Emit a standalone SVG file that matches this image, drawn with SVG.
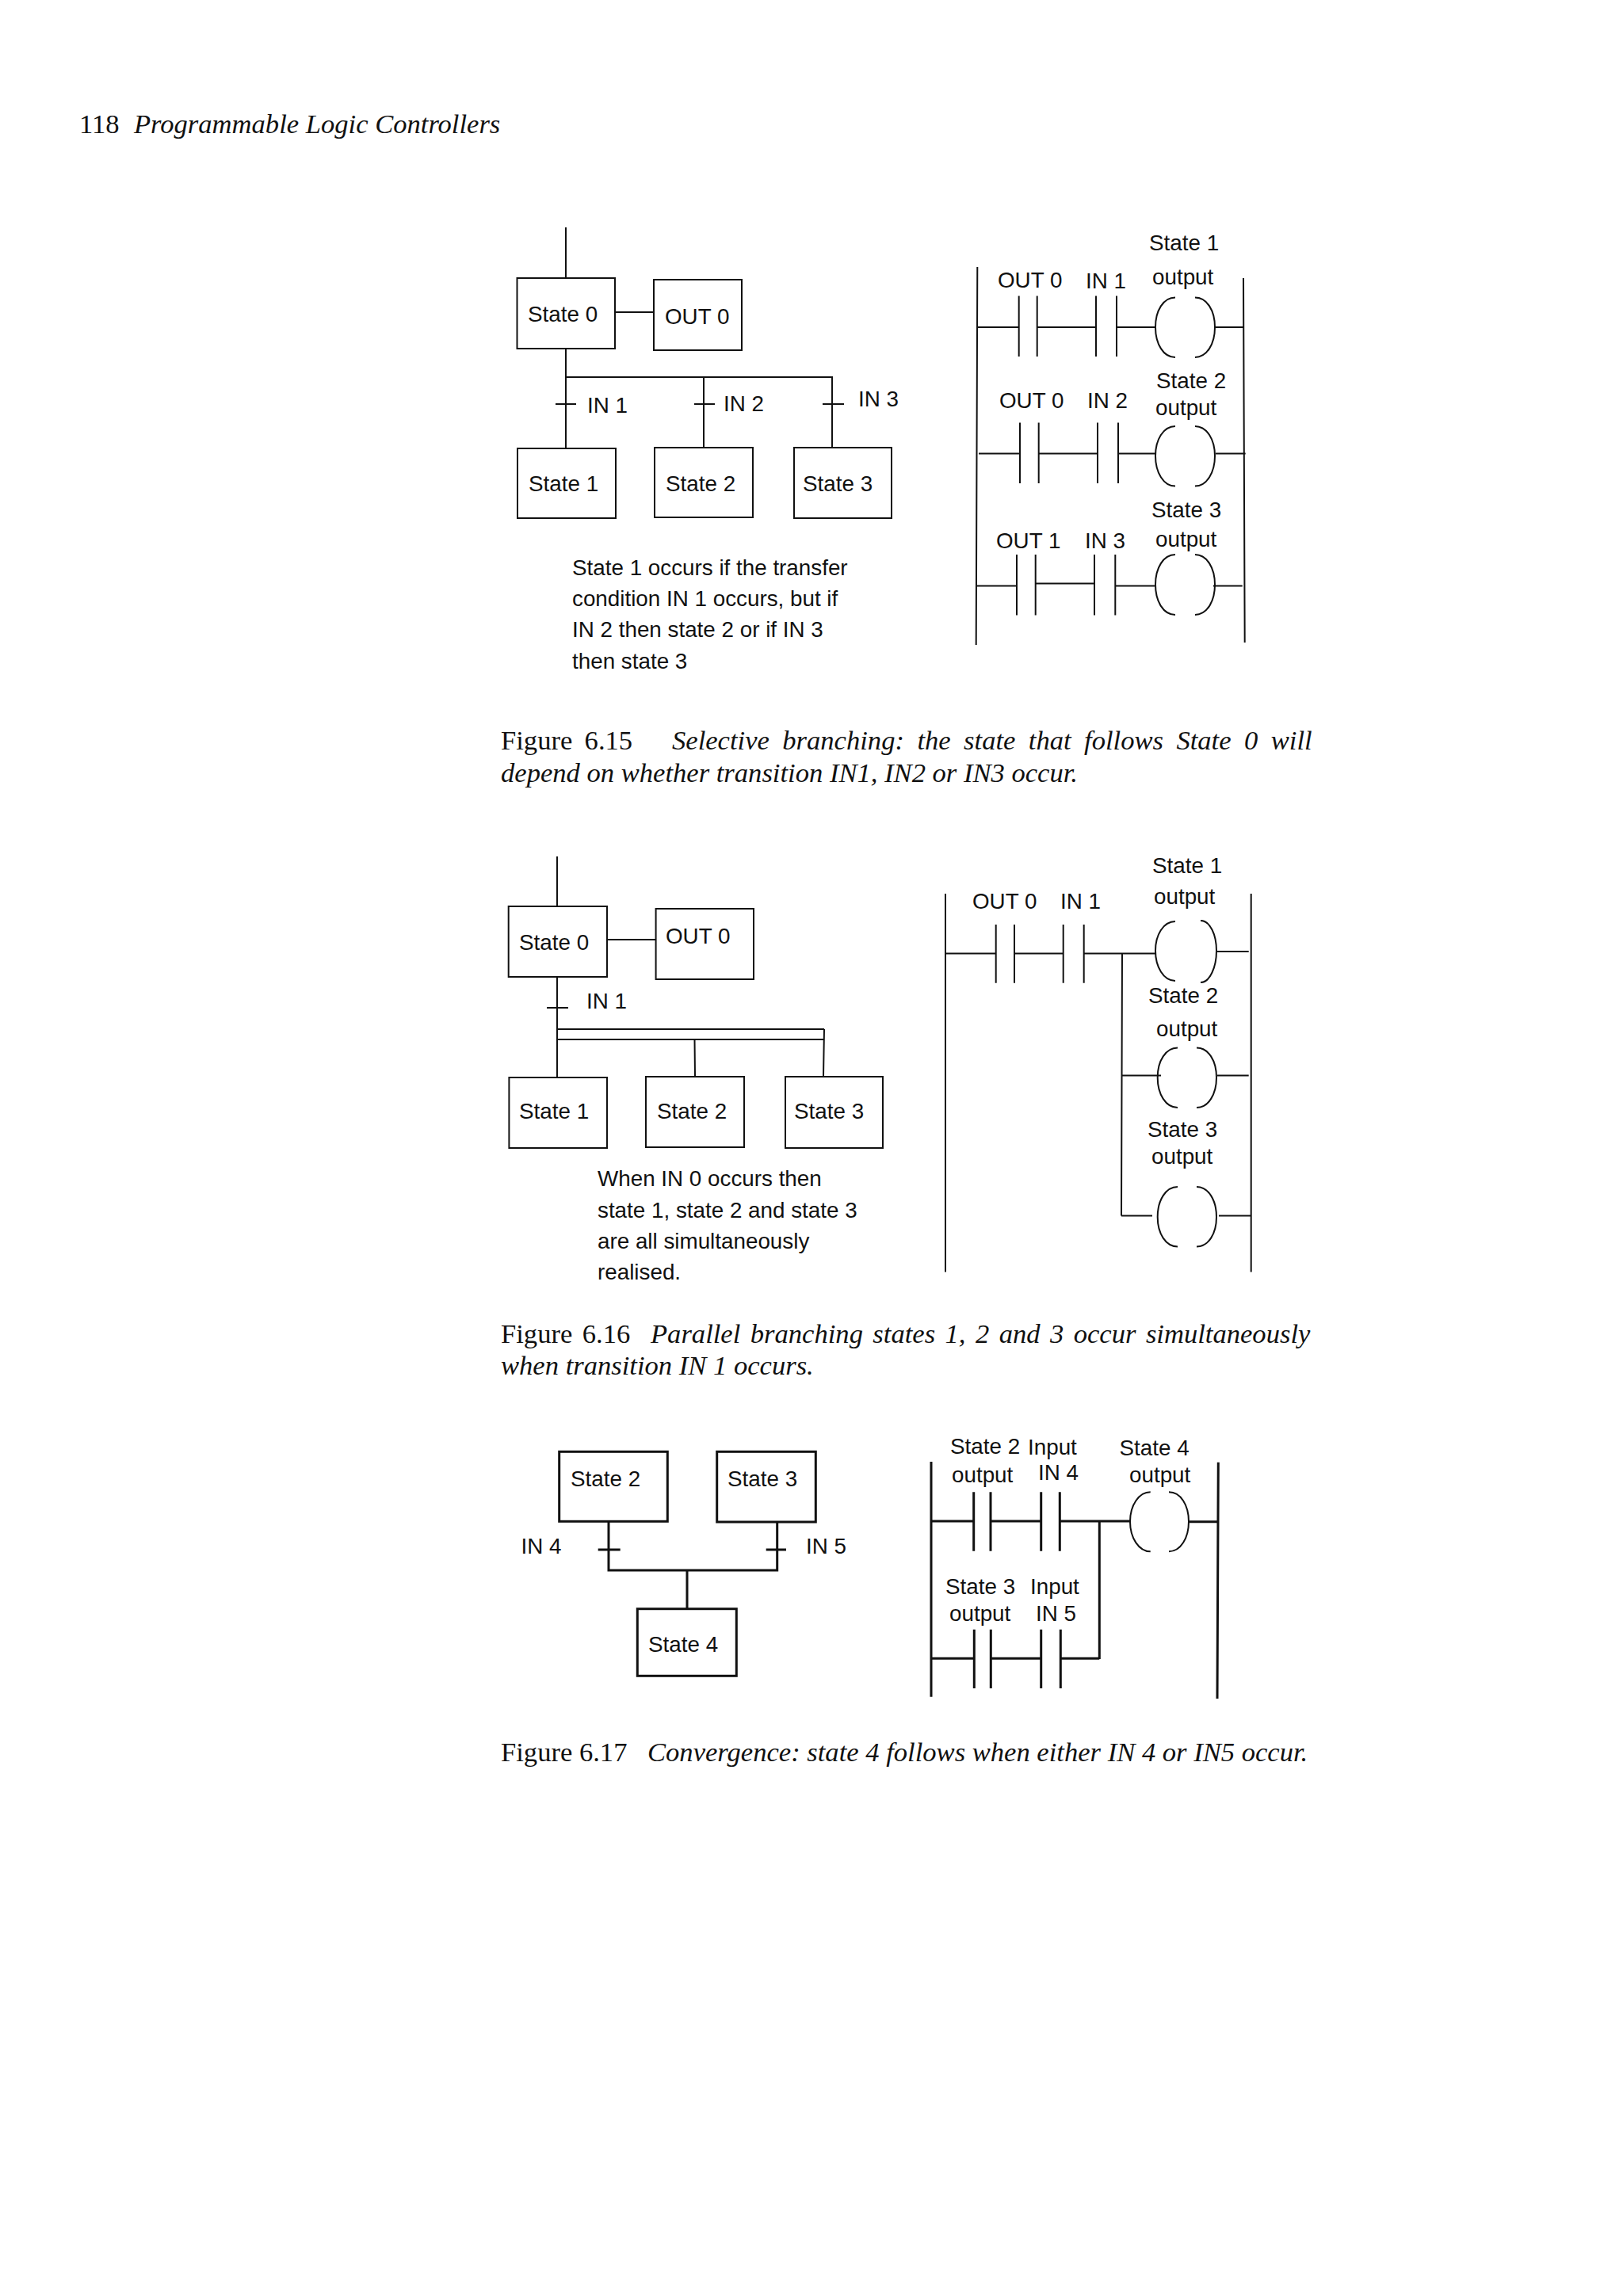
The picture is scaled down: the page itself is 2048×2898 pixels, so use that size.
<svg xmlns="http://www.w3.org/2000/svg" width="2048" height="2898" viewBox="0 0 2048 2898">
<style>
.s{font-family:"Liberation Sans",Arial,sans-serif;font-size:27.8px;fill:#111}
.c{font-family:"Liberation Serif","Times New Roman",serif;font-size:34.6px;fill:#111}
.i{font-style:italic}
.b{fill:#fff;stroke:#111;stroke-width:2}
.b3{fill:#fff;stroke:#111;stroke-width:3}
.l{fill:none;stroke:#111;stroke-width:2}
.l3{fill:none;stroke:#111;stroke-width:3}
</style>
<rect width="2048" height="2898" fill="#fff"/>
<g id="page-header"><text class="c" x="100" y="168">118</text><text class="c i" x="169" y="168">Programmable Logic Controllers</text></g>

<g id="fig15-connectors" class="l">
<path d="M714 287V351M776 394H825M714 440V566M714 476H1051M888 476V565M1050 476V565M701 510H727M876 510H902M1038 510H1065"/>
<path d="M1233.3 337L1231.7 814M1569 351L1570.7 811"/>
<path d="M1233 413H1285.7M1308.7 413H1383M1409 413H1458M1533 413H1569"/>
<path d="M1235 572.5H1287M1310.7 572.5H1385M1411 572.5H1459M1534 572.5H1571.7"/>
<path d="M1232 739.5H1283M1306.7 736.5H1381M1407 739.5H1457M1531 739.5H1567.7"/>
</g>
<g id="fig15-state0"><rect class="b" x="652.5" y="351" width="123.5" height="89"/><text class="s" x="666" y="406">State 0</text></g>
<g id="fig15-out0"><rect class="b" x="825" y="353" width="111" height="89"/><text class="s" x="839" y="409">OUT 0</text></g>
<g id="fig15-state1"><rect class="b" x="653" y="566" width="124" height="88"/><text class="s" x="667" y="620">State 1</text></g>
<g id="fig15-state2"><rect class="b" x="826" y="565" width="124" height="88"/><text class="s" x="840" y="620">State 2</text></g>
<g id="fig15-state3"><rect class="b" x="1002" y="565" width="123" height="89"/><text class="s" x="1013" y="620">State 3</text></g>
<g id="fig15-transitions"><text class="s" x="741" y="521">IN 1</text><text class="s" x="913" y="519">IN 2</text><text class="s" x="1083" y="513">IN 3</text></g>
<g id="fig15-note"><text class="s" x="722" y="726">State 1 occurs if the transfer</text><text class="s" x="722" y="765">condition IN 1 occurs, but if</text><text class="s" x="722" y="804">IN 2 then state 2 or if IN 3</text><text class="s" x="722" y="844">then state 3</text></g>
<g id="fig15-rung1"><path class="l" d="M1285.7 373.6V450M1308.7 373.6V450M1383 373.6V450M1409 373.6V450"/>
<path class="l" d="M1483 375.5C1468 375.5 1458 392 1458 413C1458 434 1468 451 1483 451M1508 375.5C1523 375.5 1533 392 1533 413C1533 434 1523 451 1508 451"/>
<text class="s" x="1259" y="363">OUT 0</text><text class="s" x="1370" y="364">IN 1</text><text class="s" x="1450" y="316">State 1</text><text class="s" x="1454" y="359">output</text></g>
<g id="fig15-rung2"><path class="l" d="M1287 533.6V610M1310.7 533.6V610M1385 533.6V610M1411 533.6V610"/>
<path class="l" d="M1483 538C1468 538 1458 555 1458 575.5C1458 596 1468 613.6 1483 613.6M1508 538C1523 538 1533 555 1533 575.5C1533 596 1523 613.6 1508 613.6"/>
<text class="s" x="1261" y="515">OUT 0</text><text class="s" x="1372" y="515">IN 2</text><text class="s" x="1459" y="490">State 2</text><text class="s" x="1458" y="523.5">output</text></g>
<g id="fig15-rung3"><path class="l" d="M1283 700V776.5M1306.7 700V776.5M1381 700V776.5M1407.3 700V776.5"/>
<path class="l" d="M1483 700C1468 700 1458 717 1458 738C1458 759 1468 776 1483 776M1508 700C1523 700 1533 717 1533 738C1533 759 1523 776 1508 776"/>
<text class="s" x="1257" y="691.5">OUT 1</text><text class="s" x="1369" y="691.5">IN 3</text><text class="s" x="1453" y="653">State 3</text><text class="s" x="1458" y="690">output</text></g>
<g id="fig15-caption"><text class="c" x="632" y="946" style="word-spacing:6.7px">Figure 6.15</text><text class="c i" x="848" y="946" style="word-spacing:7.8px">Selective branching: the state that follows State 0 will</text><text class="c i" x="632" y="987">depend on whether transition IN1, IN2 or IN3 occur.</text></g>

<g id="fig16-connectors" class="l">
<path d="M703 1081V1144M766 1186H827.6M703 1233V1359M690 1272H717M703 1299H1040M703 1312H1040M1040 1299L1039 1358M876.5 1312L877 1358"/>
<path d="M1193 1128V1605.5M1578.7 1128V1605.5"/>
<path d="M1193 1203.6H1256.7M1280 1203.6H1341.7M1367.7 1203.6H1458M1536 1201H1575.7"/>
<path d="M1416 1203.6L1415 1534.5M1415 1357.5H1465M1536 1357.5H1575.7M1415 1534.5H1454M1538 1534.5H1578.7"/>
</g>
<g id="fig16-state0"><rect class="b" x="641.7" y="1144" width="124.3" height="89"/><text class="s" x="655" y="1199">State 0</text></g>
<g id="fig16-out0"><rect class="b" x="827.6" y="1147" width="123.4" height="89"/><text class="s" x="840" y="1191">OUT 0</text></g>
<g id="fig16-state1"><rect class="b" x="642.4" y="1360" width="123.6" height="89"/><text class="s" x="655" y="1412">State 1</text></g>
<g id="fig16-state2"><rect class="b" x="815" y="1359" width="124" height="89"/><text class="s" x="829" y="1412">State 2</text></g>
<g id="fig16-state3"><rect class="b" x="991" y="1359" width="123" height="90"/><text class="s" x="1002" y="1412">State 3</text></g>
<g id="fig16-transition"><text class="s" x="740" y="1273">IN 1</text></g>
<g id="fig16-note"><text class="s" x="754" y="1497">When IN 0 occurs then</text><text class="s" x="754" y="1537">state 1, state 2 and state 3</text><text class="s" x="754" y="1576">are all simultaneously</text><text class="s" x="754" y="1615">realised.</text></g>
<g id="fig16-rung"><path class="l" d="M1256.7 1167V1240.7M1280 1167V1240.7M1341.7 1167V1240.7M1367.7 1167V1240.7"/>
<text class="s" x="1227" y="1147">OUT 0</text><text class="s" x="1338" y="1147">IN 1</text></g>
<g id="fig16-coil1"><path class="l" d="M1483 1163C1468 1163 1458 1180 1458 1200C1458 1220 1468 1238 1483 1238M1515 1162C1527 1162 1535 1180 1535 1200C1535 1220 1527 1240 1515 1240"/>
<text class="s" x="1454" y="1102">State 1</text><text class="s" x="1456" y="1141">output</text></g>
<g id="fig16-coil2"><path class="l" d="M1486 1322.5C1471 1322.5 1460.7 1339 1460.7 1360C1460.7 1381 1471 1398 1486 1398M1510 1322.5C1525 1322.5 1535 1339 1535 1360C1535 1381 1525 1398 1510 1398"/>
<text class="s" x="1449" y="1266">State 2</text><text class="s" x="1459" y="1308">output</text></g>
<g id="fig16-coil3"><path class="l" d="M1486 1498C1471 1498 1460.7 1515 1460.7 1536C1460.7 1557 1471 1573.5 1486 1573.5M1510 1498C1525 1498 1535 1515 1535 1536C1535 1557 1525 1573.5 1510 1573.5"/>
<text class="s" x="1448" y="1435">State 3</text><text class="s" x="1453" y="1469">output</text></g>
<g id="fig16-caption"><text class="c" x="632" y="1695" style="word-spacing:3.8px">Figure 6.16</text><text class="c i" x="821" y="1695" style="word-spacing:3.8px">Parallel branching states 1, 2 and 3 occur simultaneously</text><text class="c i" x="632" y="1735">when transition IN 1 occurs.</text></g>

<g id="fig17-connectors" class="l3">
<path d="M768 1920V1982H980.7V1919M754.7 1956H782.7M966.7 1956H992M867 1982V2030"/>
<path d="M1175 1845V2141.7M1537.3 1845.7L1536 2144"/>
<path d="M1175 1920H1228.7M1251 1920H1313.7M1338 1920H1426.7M1500.7 1920.7H1537M1387.3 1920V2094M1175 2093.3H1229M1251 2093.3H1313.7M1338 2093.3H1387.3"/>
</g>
<g id="fig17-state2"><rect class="b3" x="705.7" y="1832.3" width="136.6" height="88"/><text class="s" x="720" y="1876">State 2</text></g>
<g id="fig17-state3"><rect class="b3" x="904.7" y="1832.3" width="124.6" height="88.7"/><text class="s" x="918" y="1876">State 3</text></g>
<g id="fig17-state4"><rect class="b3" x="804.3" y="2030.7" width="125" height="84.6"/><text class="s" x="818" y="2084.7">State 4</text></g>
<g id="fig17-transitions"><text class="s" x="657.500" y="1961">IN 4</text><text class="s" x="1017" y="1961">IN 5</text></g>
<g id="fig17-rung1"><path class="l3" d="M1228.7 1883.3V1957.7M1250 1883.3V1957.7M1313.7 1883.3V1957.7M1337.3 1883.3V1957.7"/>
<text class="s" x="1199" y="1834.7">State 2</text><text class="s" x="1201" y="1871">output</text><text class="s" x="1297" y="1836">Input</text><text class="s" x="1310" y="1868">IN 4</text></g>
<g id="fig17-rung2"><path class="l3" d="M1229.3 2056.7V2131M1250.3 2056.7V2131M1313.7 2056.7V2131M1338.3 2056.7V2131"/>
<text class="s" x="1193" y="2012">State 3</text><text class="s" x="1198" y="2045.7">output</text><text class="s" x="1300" y="2011.7">Input</text><text class="s" x="1307" y="2045.7">IN 5</text></g>
<g id="fig17-coil"><path class="l" d="M1451.7 1883.3C1437 1883.3 1426 1900 1426 1920.5C1426 1941 1437 1958.3 1451.7 1958.3M1475 1883.3C1490 1883.3 1500 1900 1500 1920.5C1500 1941 1490 1958.3 1475 1958.3"/>
<text class="s" x="1412.500" y="1837">State 4</text><text class="s" x="1425" y="1871">output</text></g>
<g id="fig17-caption"><text class="c" x="632" y="2223">Figure 6.17</text><text class="c i" x="817" y="2223">Convergence: state 4 follows when either IN 4 or IN5 occur.</text></g>
</svg>
